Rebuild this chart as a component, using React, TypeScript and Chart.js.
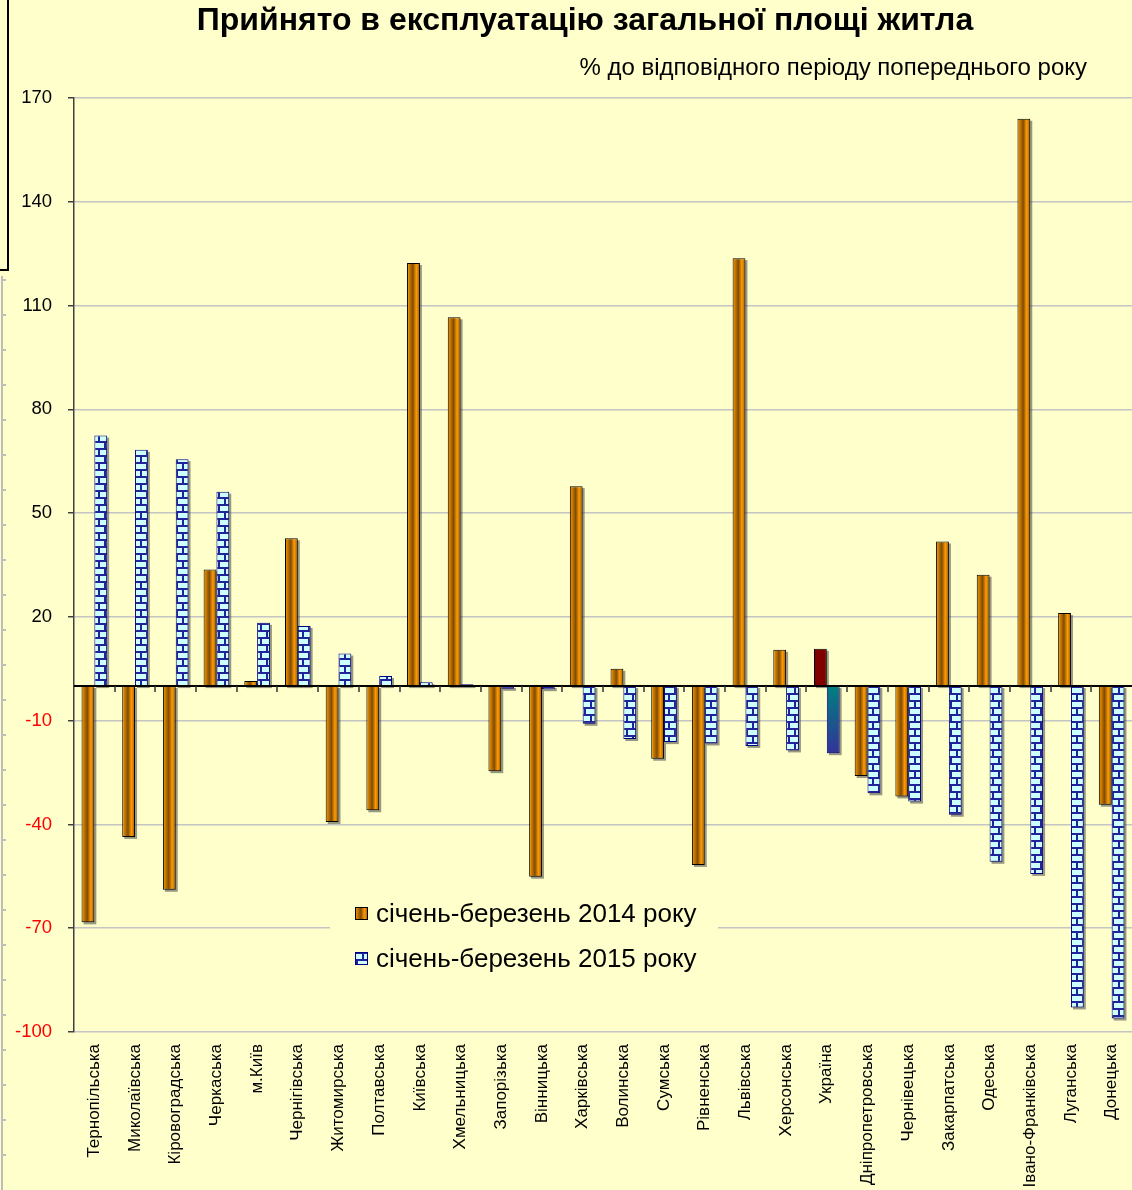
import React, { useEffect, useRef } from "react";
import { Chart, registerables } from "chart.js";

Chart.register(...registerables);

const TITLE = "Прийнято в експлуатацію загальної площі житла";
const SUBTITLE = "% до відповідного періоду попереднього року";

const categories = [
  "Тернопільська", "Миколаївська", "Кіровоградська", "Черкаська", "м.Київ",
  "Чернігівська", "Житомирська", "Полтавська", "Київська", "Хмельницька",
  "Запорізька", "Вінницька", "Харківська", "Волинська", "Сумська",
  "Рівненська", "Львівська", "Херсонська", "Україна", "Дніпропетровська",
  "Чернівецька", "Закарпатська", "Одеська", "Івано-Франківська", "Луганська",
  "Донецька",
];

const seriesNames = ["січень-березень 2014 року", "січень-березень 2015 року"];

const values2014 = [
  -68.3, -43.6, -58.9, 33.7, 1.5, 42.7, -39.3, -35.9, 122.3, 106.6,
  -24.6, -55.1, 57.8, 5.0, -21.0, -51.7, 123.7, 10.5, 10.8, -26.0,
  -31.9, 41.8, 32.2, 164.0, 21.1, -34.3,
];

const values2015 = [
  72.4, 68.3, 65.6, 56.2, 18.3, 17.4, 9.4, 2.9, 1.1, 0.5,
  -0.8, -0.9, -10.9, -15.3, -16.2, -16.6, -17.3, -18.6, -19.4, -31.0,
  -33.4, -37.2, -50.8, -54.3, -92.9, -96.1,
];

const highlightCategory = "Україна";

const yMin = -100;
const yMax = 170;
const yStep = 30;

const FONT = "'Liberation Sans', Arial, sans-serif";
const BG = "#FFFFCC";

function makeBrick(ctx: CanvasRenderingContext2D): CanvasPattern | string {
  const c = document.createElement("canvas");
  c.width = 12;
  c.height = 14;
  const g = c.getContext("2d");
  if (!g) return "#CCFFFF";
  g.fillStyle = "#CCFFFF";
  g.fillRect(0, 0, 12, 14);
  g.fillStyle = "#22229A";
  g.fillRect(0, 0, 12, 2);
  g.fillRect(0, 7, 12, 2);
  g.fillRect(2, 2, 2, 5);
  g.fillRect(8, 9, 2, 5);
  return ctx.createPattern(c, "repeat") || "#CCFFFF";
}

function orangeGradient(ctx: CanvasRenderingContext2D, left: number, width: number) {
  const g = ctx.createLinearGradient(left, 0, left + width, 0);
  g.addColorStop(0, "#FF9900");
  g.addColorStop(0.2, "#C87800");
  g.addColorStop(0.45, "#7F4C00");
  g.addColorStop(0.72, "#FF9A05");
  g.addColorStop(1, "#9A5C00");
  return g;
}

export default function App() {
  const ref = useRef<HTMLCanvasElement | null>(null);

  useEffect(() => {
    const canvas = ref.current;
    if (!canvas) return;
    const ctx0 = canvas.getContext("2d") as CanvasRenderingContext2D;
    const brick = makeBrick(ctx0);

    const backgroundPlugin = {
      id: "bgAndTitle",
      beforeDraw(chart: any) {
        const ctx = chart.ctx;
        ctx.save();
        ctx.fillStyle = BG;
        ctx.fillRect(0, 0, chart.width, chart.height);
        ctx.strokeStyle = "#000";
        ctx.lineWidth = 2;
        ctx.beginPath();
        ctx.moveTo(8, 0);
        ctx.lineTo(8, 270);
        ctx.lineTo(0, 270);
        ctx.stroke();
        ctx.strokeStyle = "#BDBDBD";
        ctx.beginPath();
        ctx.moveTo(2, 276);
        ctx.lineTo(2, chart.height);
        for (let yy = 280; yy < chart.height; yy += 35) {
          ctx.moveTo(2, yy);
          ctx.lineTo(6, yy);
        }
        ctx.stroke();
        ctx.fillStyle = "#000";
        ctx.textBaseline = "middle";
        ctx.textAlign = "center";
        ctx.font = `bold 32px ${FONT}`;
        ctx.fillText(TITLE, 585, 21);
        ctx.textAlign = "right";
        ctx.font = `24px ${FONT}`;
        ctx.fillText(SUBTITLE, 1087, 68);
        ctx.restore();
      },
    };

    const fillPlugin = {
      id: "barFills",
      beforeDatasetsDraw(chart: any) {
        const ctx = chart.ctx;
        const y0 = chart.scales.y.getPixelForValue(0);
        chart.data.datasets.forEach((_ds: any, di: number) => {
          const meta = chart.getDatasetMeta(di);
          meta.data.forEach((el: any, i: number) => {
            const { x, y, base, width } = el.getProps(["x", "y", "base", "width"], true);
            const left = x - width / 2;
            const top = Math.min(y, base);
            const h = Math.abs(base - y);
            ctx.save();
            ctx.fillStyle = "rgba(70,70,70,0.55)";
            ctx.fillRect(left + 2, top + 2, width, h);
            ctx.restore();
            let bg: any;
            if (categories[i] === highlightCategory) {
              if (di === 0) bg = "#800000";
              else {
                const g = ctx.createLinearGradient(0, y0, 0, y);
                g.addColorStop(0, "#008080");
                g.addColorStop(1, "#333399");
                bg = g;
              }
            } else if (di === 0) {
              bg = orangeGradient(ctx, left, width);
            } else {
              bg = brick;
            }
            el.options = Object.assign({}, el.options, { backgroundColor: bg });
          });
        });
      },
      afterDatasetsDraw(chart: any) {
        const ctx = chart.ctx;
        const xs = chart.scales.x;
        const y0 = chart.scales.y.getPixelForValue(0);
        const area = chart.chartArea;
        ctx.save();
        ctx.strokeStyle = "#000";
        ctx.lineWidth = 2;
        ctx.beginPath();
        ctx.moveTo(area.left, y0);
        ctx.lineTo(area.right, y0);
        ctx.stroke();
        ctx.strokeStyle = "#333";
        ctx.lineWidth = 1.5;
        ctx.beginPath();
        for (let i = 1; i < categories.length; i++) {
          const bx = Math.round((xs.getPixelForValue(i - 1) + xs.getPixelForValue(i)) / 2);
          ctx.moveTo(bx, y0);
          ctx.lineTo(bx, y0 + 6);
        }
        ctx.stroke();
        ctx.restore();
      },
      afterDraw(chart: any) {
        const ctx = chart.ctx;
        ctx.save();
        ctx.fillStyle = BG;
        ctx.fillRect(330, 893, 388, 90);
        const rows = [
          { label: chart.data.datasets[0].label, y: 914, kind: 0 },
          { label: chart.data.datasets[1].label, y: 959, kind: 1 },
        ];
        rows.forEach((r) => {
          const bx = 355;
          const by = r.y - 7;
          ctx.fillStyle = r.kind === 0 ? orangeGradient(ctx, bx, 13) : brick;
          ctx.fillRect(bx, by, 13, 13);
          ctx.strokeStyle = r.kind === 0 ? "#000" : "#000080";
          ctx.lineWidth = 1;
          ctx.strokeRect(bx + 0.5, by + 0.5, 12, 12);
          ctx.fillStyle = "#000";
          ctx.font = `26px ${FONT}`;
          ctx.textAlign = "left";
          ctx.textBaseline = "middle";
          ctx.fillText(r.label, 376, r.y + 1);
        });
        ctx.restore();
      },
    };

    const chart = new Chart(canvas, {
      type: "bar",
      data: {
        labels: categories,
        datasets: [
          {
            label: seriesNames[0],
            data: values2014,
            backgroundColor: "#FF9900",
            borderColor: "#000",
            borderWidth: 1,
            borderSkipped: false,
          },
          {
            label: seriesNames[1],
            data: values2015,
            backgroundColor: "#CCFFFF",
            borderColor: "#000080",
            borderWidth: 1,
            borderSkipped: false,
          },
        ],
      },
      options: {
        animation: false,
        responsive: false,
        maintainAspectRatio: false,
        devicePixelRatio: 1,
        layout: { padding: { top: 98, left: 0, right: 0, bottom: 0 } },
        datasets: { bar: { categoryPercentage: 0.63, barPercentage: 1.0 } },
        plugins: {
          legend: { display: false },
          title: { display: false },
          tooltip: { enabled: false },
        },
        scales: {
          x: {
            grid: { display: false, drawTicks: false },
            border: { display: false },
            ticks: {
              autoSkip: false,
              maxRotation: 90,
              minRotation: 90,
              padding: 12,
              color: "#000",
              font: { family: FONT, size: 17 },
            },
            afterFit: (scale: any) => {
              scale.height = 158;
              scale.paddingLeft = 0;
              scale.paddingRight = 0;
            },
          },
          y: {
            min: yMin,
            max: yMax,
            ticks: {
              stepSize: yStep,
              padding: 16,
              font: { family: FONT, size: 18.5 },
              color: (c: any) => (c.tick && c.tick.value < 0 ? "#FF0000" : "#000000"),
            },
            grid: {
              color: "#C4C4C4",
              lineWidth: 1.5,
              tickColor: "#404040",
              tickLength: 6,
            },
            border: { display: true, color: "#404040", width: 1.5 },
            afterFit: (scale: any) => {
              scale.width = 74;
            },
          },
        },
      },
      plugins: [backgroundPlugin, fillPlugin],
    });

    return () => chart.destroy();
  }, []);

  return (
    <div style={{ position: "absolute", left: 0, top: 0, width: 1132, height: 1190, background: BG }}>
      <canvas ref={ref} width={1132} height={1190} style={{ display: "block" }} />
    </div>
  );
}
